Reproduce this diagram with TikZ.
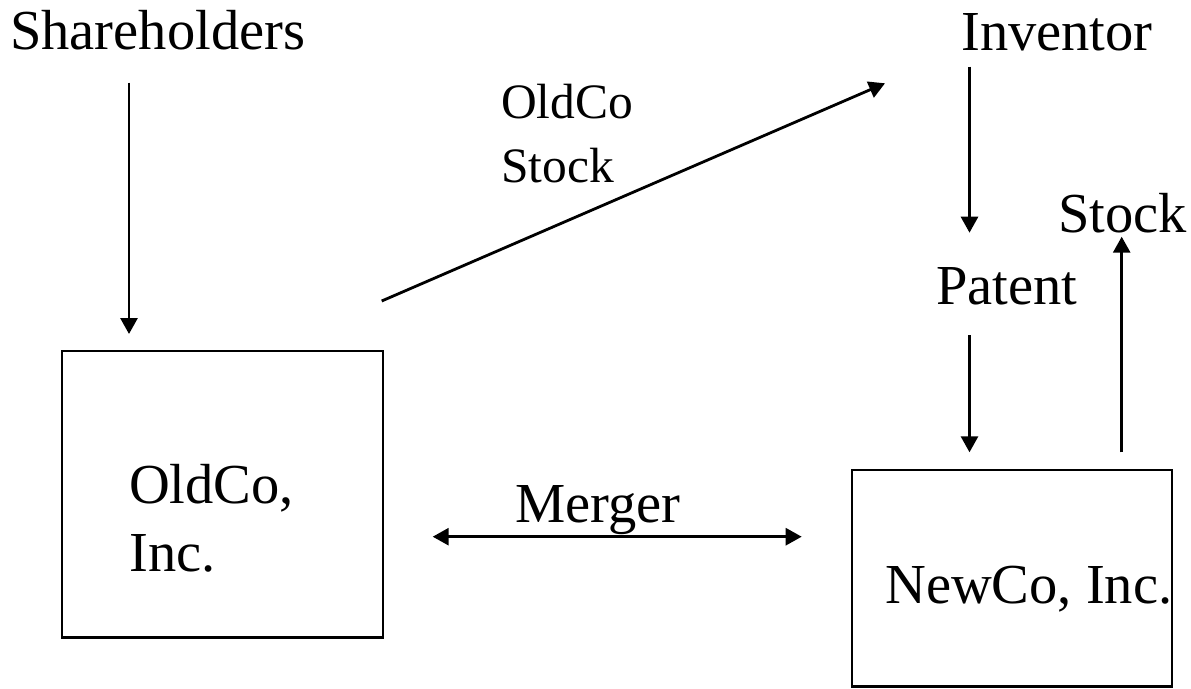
\documentclass[tikz,border=0pt]{standalone}
\usepackage{fontspec}
\setmainfont{Liberation Serif}
\usetikzlibrary{arrows.meta}
\begin{document}
\begin{tikzpicture}[x=1pt,y=-1pt,
  lbl/.style={anchor=base west,inner sep=0pt,font=\fontsize{56.5}{68}\selectfont},
  smalllbl/.style={anchor=base west,inner sep=0pt,font=\fontsize{49.5}{59}\selectfont},
  entity/.style={draw,line width=2.4pt,inner sep=0pt},
  tip/.style={Triangle[length=16pt,width=17pt]},
  flow/.style={line width=2.8pt,-{Triangle[length=16pt,width=17pt]}},
  both/.style={line width=2.8pt,{Triangle[length=16pt,width=17pt]}-{Triangle[length=16pt,width=17pt]}}]
  \useasboundingbox (0,0) rectangle (1191,688);

  % parties and corporations
  \node[lbl] (sh) at (10,49) {Shareholders};
  \node[lbl] (inv) at (961,50) {Inventor};
  \node[lbl] (pat) at (936,304) {Patent};
  \node[lbl] (stk) at (1058,232) {Stock};
  \node[smalllbl] (ocs1) at (501,118) {OldCo};
  \node[smalllbl] (ocs2) at (501,182) {Stock};
  \node[lbl] (mg) at (515,522) {Merger};

  \node[entity,minimum width=321pt,minimum height=286.7pt] (old) at (222.2,494.3) {};
  \node[lbl] (ot1) at (129,503) {OldCo,};
  \node[lbl] (ot2) at (129,571) {Inc.};

  \node[entity,minimum width=320pt,minimum height=216.7pt] (new) at (1011.7,578.3) {};
  \node[lbl] (nt) at (885,603) {NewCo, Inc.};

  % arrow end points
  \coordinate (shA) at (129,82.7);
  \coordinate (shB) at (129,334);
  \coordinate (osA) at (381.7,301);
  \coordinate (osB) at (885,83.3);
  \coordinate (invA) at (969.5,66.7);
  \coordinate (invB) at (969.5,232.7);
  \coordinate (patA) at (969.5,335);
  \coordinate (patB) at (969.5,452.3);
  \coordinate (stA) at (1121.7,452.3);
  \coordinate (stB) at (1121.7,236.7);
  \coordinate (mgA) at (432.7,536.7);
  \coordinate (mgB) at (801.7,536.7);

  % transfers
  \draw[flow] (shA) -- (shB);
  \draw[flow] (osA) -- (osB);
  \draw[flow] (invA) -- (invB);
  \draw[flow] (patA) -- (patB);
  \draw[flow] (stA) -- (stB);
  \draw[both] (mgA) -- (mgB);
\end{tikzpicture}
\end{document}
